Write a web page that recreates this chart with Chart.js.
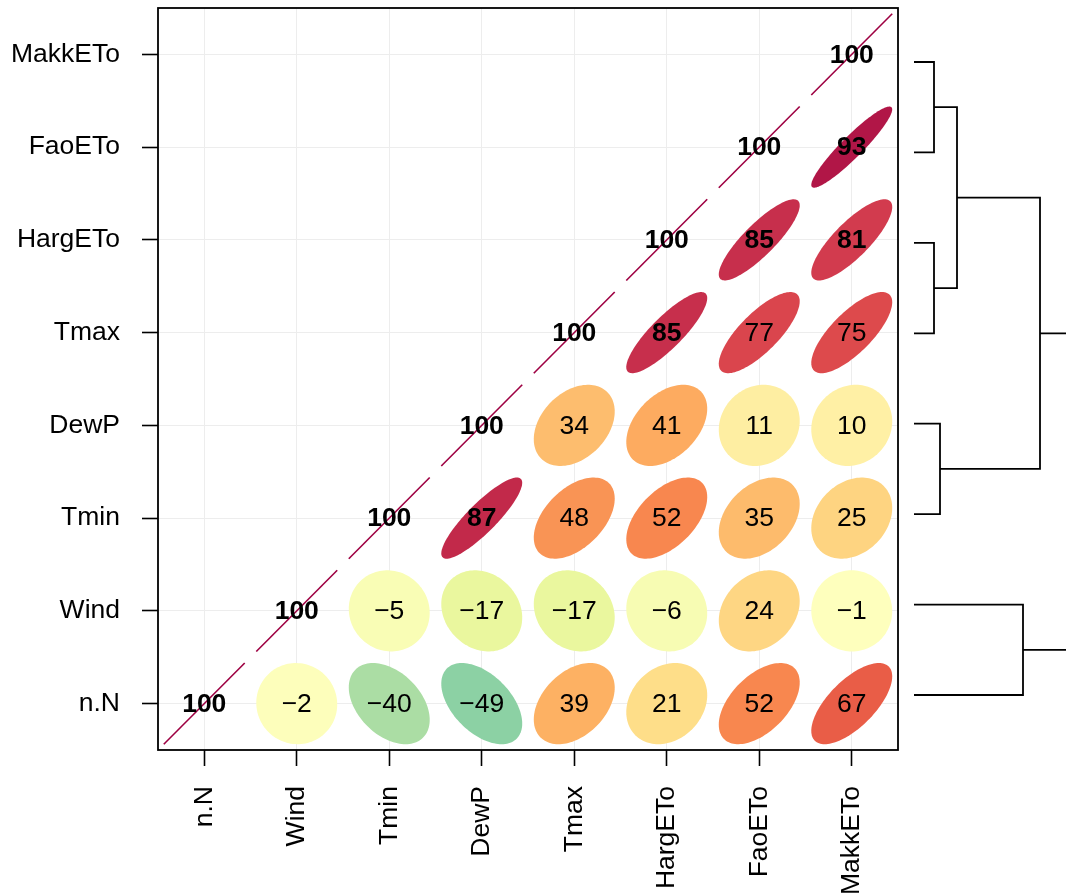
<!DOCTYPE html>
<html>
<head>
<meta charset="utf-8">
<script src="https://cdn.jsdelivr.net/npm/chart.js@4.4.1/dist/chart.umd.min.js"></script>
<style>
  html, body { margin: 0; padding: 0; background: #ffffff; }
  #wrap { position: relative; width: 1066px; height: 895px; }
  #corr { position: absolute; left: 0; top: 0; }
  #dendro { position: absolute; left: 898px; top: 0; }
</style>
</head>
<body>
<div id="wrap">
  <canvas id="corr" width="1066" height="895"></canvas>
  <canvas id="dendro" width="168" height="895"></canvas>
</div>
<script>
// Variables, in axis order (left to right, bottom to top)
const variables = ['n.N', 'Wind', 'Tmin', 'DewP', 'Tmax', 'HargETo', 'FaoETo', 'MakkETo'];

// Correlation coefficients (x100), one row per variable, columns in the same order
const corrNN   = [100,  -2, -40, -49,  39,  21,  52,  67];
const corrWind = [ -2, 100,  -5, -17, -17,  -6,  24,  -1];
const corrTmin = [-40,  -5, 100,  87,  48,  52,  35,  25];
const corrDewP = [-49, -17,  87, 100,  34,  41,  11,  10];
const corrTmax = [ 39, -17,  48,  34, 100,  85,  77,  75];
const corrHarg = [ 21,  -6,  52,  41,  85, 100,  85,  81];
const corrFao  = [ 52,  24,  35,  11,  77,  85, 100,  93];
const corrMakk = [ 67,  -1,  25,  10,  75,  81,  93, 100];
const corrRows = [corrNN, corrWind, corrTmin, corrDewP, corrTmax, corrHarg, corrFao, corrMakk];

// Hierarchical clustering of the variables (leaves listed top to bottom).
// Negative entries refer to leaves (1-based), positive ones to earlier merges.
const dendroLeaves = ['MakkETo', 'FaoETo', 'HargETo', 'Tmax', 'DewP', 'Tmin', 'Wind', 'n.N'];
const mergeA      = [-1, -3, -5, 1, -7, 4, 6];
const mergeB      = [-2, -4, -6, 2, -8, 3, 5];
const mergeHeight = [0.20, 0.20, 0.26, 0.43, 1.09, 1.26, 2.00];

// Diverging palette (Spectral, from +1 down to -1)
const spectral = ['#9E0142', '#D53E4F', '#F46D43', '#FDAE61', '#FEE08B', '#FFFFBF',
                  '#E6F598', '#ABDDA4', '#66C2A5', '#3288BD', '#5E4FA2'];

function hexToRgb(h) {
  return [parseInt(h.slice(1, 3), 16), parseInt(h.slice(3, 5), 16), parseInt(h.slice(5, 7), 16)];
}
function corrColor(v) {
  const pos = (1 - v / 100) / 2 * (spectral.length - 1);
  const i = Math.min(Math.floor(pos), spectral.length - 2);
  const f = pos - i;
  const a = hexToRgb(spectral[i]), b = hexToRgb(spectral[i + 1]);
  const c = a.map((ch, k) => Math.round(ch + (b[k] - ch) * f));
  return `rgb(${c[0]},${c[1]},${c[2]})`;
}

const FONT = '"Liberation Sans", Arial, sans-serif';
const FONT_SIZE = 26.5;
const ELLIPSE_HALF = 0.4375; // half-extent of each ellipse, in axis units

// Upper triangle cells (column >= row)
const cells = [];
for (let a = 0; a < variables.length; a++) {
  for (let b = a; b < variables.length; b++) {
    cells.push({ x: b, y: a, v: corrRows[a][b] });
  }
}

const ellipsePlugin = {
  id: 'corrEllipses',
  afterDatasetsDraw(chart) {
    const { ctx, scales } = chart;
    const xs = scales.x, ys = scales.y;
    const rx = Math.abs(xs.getPixelForValue(ELLIPSE_HALF) - xs.getPixelForValue(0));
    const ry = Math.abs(ys.getPixelForValue(ELLIPSE_HALF) - ys.getPixelForValue(0));
    const meta = chart.getDatasetMeta(0);
    const data = chart.data.datasets[0].data;
    ctx.save();
    meta.data.forEach((pt, i) => {
      const v = data[i].v;
      const r = Math.max(-1, Math.min(1, v / 100));
      const d = Math.acos(r);
      const cx = pt.x, cy = pt.y;
      if (Math.abs(r) >= 0.999) {
        ctx.beginPath();
        ctx.moveTo(cx - rx, cy + ry * Math.sign(r));
        ctx.lineTo(cx + rx, cy - ry * Math.sign(r));
        ctx.strokeStyle = corrColor(v);
        ctx.lineWidth = 1.6;
        ctx.stroke();
      } else {
        ctx.beginPath();
        const n = 120;
        for (let k = 0; k <= n; k++) {
          const t = (k / n) * Math.PI * 2;
          const px = cx + rx * Math.cos(t + d / 2);
          const py = cy - ry * Math.cos(t - d / 2);
          if (k === 0) ctx.moveTo(px, py); else ctx.lineTo(px, py);
        }
        ctx.closePath();
        ctx.fillStyle = corrColor(v);
        ctx.fill();
      }
    });
    // coefficient labels
    ctx.textAlign = 'center';
    ctx.textBaseline = 'middle';
    ctx.fillStyle = '#000000';
    meta.data.forEach((pt, i) => {
      const v = data[i].v;
      const bold = Math.abs(v) >= 80;
      ctx.font = (bold ? 'bold ' : '') + FONT_SIZE + 'px ' + FONT;
      const txt = String(v).replace('-', '\u2212');
      ctx.fillText(txt, pt.x, pt.y + 1);
    });
    ctx.restore();
  },
  afterDraw(chart) {
    const { ctx, chartArea: ca } = chart;
    ctx.save();
    ctx.strokeStyle = '#000000';
    ctx.lineWidth = 1.8;
    ctx.strokeRect(ca.left, ca.top, ca.right - ca.left, ca.bottom - ca.top);
    ctx.restore();
  }
};

function axisOptions(isX) {
  return {
    type: 'linear',
    min: -0.5,
    max: variables.length - 0.5,
    afterBuildTicks: (axis) => { axis.ticks = variables.map((_, i) => ({ value: i })); },
    afterFit: (axis) => {
      if (isX) axis.height = 145; else axis.width = 158;
      axis.paddingTop = 0; axis.paddingBottom = 0;
      axis.paddingLeft = 0; axis.paddingRight = 0;
    },
    border: { display: false },
    grid: {
      color: '#EDEDED',
      lineWidth: 1,
      tickColor: '#000000',
      tickWidth: 1.6,
      tickLength: 16,
      drawOnChartArea: true
    },
    ticks: {
      autoSkip: false,
      color: '#000000',
      font: { family: FONT, size: FONT_SIZE },
      padding: isX ? 20 : 22,
      minRotation: isX ? 90 : 0,
      maxRotation: isX ? 90 : 0,
      callback: (value) => variables[value]
    }
  };
}

new Chart(document.getElementById('corr'), {
  type: 'scatter',
  data: {
    datasets: [{
      data: cells,
      pointRadius: 0,
      pointHoverRadius: 0,
      showLine: false
    }]
  },
  options: {
    responsive: false,
    devicePixelRatio: 1,
    animation: false,
    events: [],
    layout: { padding: { top: 8, right: 168, bottom: 0, left: 0 } },
    plugins: { legend: { display: false }, tooltip: { enabled: false } },
    scales: { x: axisOptions(true), y: axisOptions(false) }
  },
  plugins: [ellipsePlugin]
});

// Dendrogram: resolve merge positions, then one polyline per merge
const nodePos = [], nodeHeight = [];
function childInfo(ref) {
  if (ref < 0) return { pos: -ref - 1, h: 0 };
  return { pos: nodePos[ref - 1], h: nodeHeight[ref - 1] };
}
const dendroSets = mergeA.map((a, i) => {
  const ca = childInfo(a), cb = childInfo(mergeB[i]);
  const h = mergeHeight[i];
  nodePos.push((ca.pos + cb.pos) / 2);
  nodeHeight.push(h);
  return {
    data: [
      { x: ca.h, y: ca.pos }, { x: h, y: ca.pos },
      { x: h, y: cb.pos }, { x: cb.h, y: cb.pos }
    ],
    showLine: true,
    borderColor: '#000000',
    borderWidth: 1.8,
    pointRadius: 0,
    tension: 0,
    clip: false
  };
});

new Chart(document.getElementById('dendro'), {
  type: 'scatter',
  data: { datasets: dendroSets },
  options: {
    responsive: false,
    devicePixelRatio: 1,
    animation: false,
    events: [],
    layout: { padding: { top: 62, right: 0, bottom: 200, left: 16 } },
    plugins: { legend: { display: false }, tooltip: { enabled: false } },
    scales: {
      x: { type: 'linear', display: false, min: 0, max: 1.52 },
      y: { type: 'linear', display: false, min: 0, max: dendroLeaves.length - 1, reverse: true }
    }
  }
});
</script>
</body>
</html>
